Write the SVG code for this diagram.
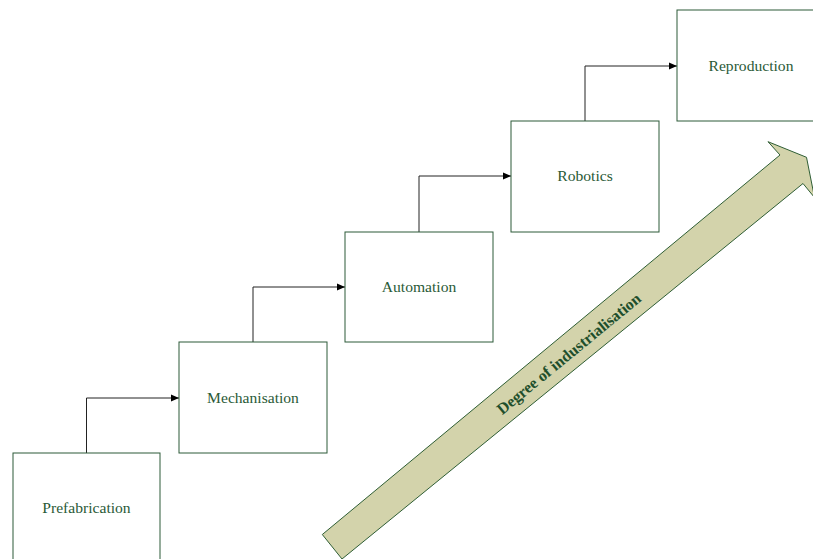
<svg xmlns="http://www.w3.org/2000/svg" width="813" height="559" viewBox="0 0 813 559">
  <style>
    .box { fill: #ffffff; stroke: #2c5a39; stroke-width: 1; }
    .lbl { font-family: "Liberation Serif", "Times New Roman", serif; font-size: 15.6px; fill: #2a5a37; text-anchor: middle; }
    .conn { fill: none; stroke: #222222; stroke-width: 1; marker-end: url(#ah); }
    .big { fill: #d3d3ab; stroke: #2f5e35; stroke-width: 1; }
    .big-lbl { font-family: "Liberation Serif", "Times New Roman", serif; font-size: 16px; font-weight: bold; fill: #1f4f2c; text-anchor: middle; }
  </style>
  <defs>
    <marker id="ah" viewBox="0 0 8 8" refX="8" refY="4" markerWidth="8" markerHeight="8" markerUnits="userSpaceOnUse" orient="auto">
      <path d="M0,0.5 L8,4 L0,7.5 Z" fill="#000000"/>
    </marker>
  </defs>
  <rect width="813" height="559" fill="#ffffff"/>

  <g id="industrialisation-arrow">
    <path class="big" d="M322.3,534.5 L780,155 L768,141.7 L806.5,157.3 L814.5,197.5 L803,183.5 L342,559 Z"/>
    <text class="big-lbl" transform="translate(569,354) rotate(-39.4)" y="5">Degree of industrialisation</text>
  </g>

  <g id="connectors">
    <path class="conn" d="M86.5,453 V398 H179"/>
    <path class="conn" d="M253,342 V287 H345"/>
    <path class="conn" d="M419,232 V176 H511"/>
    <path class="conn" d="M585,121 V66 H677"/>
  </g>

  <g id="prefabrication">
    <rect class="box" x="13" y="453" width="147" height="111"/>
    <text class="lbl" x="86.5" y="513">Prefabrication</text>
  </g>
  <g id="mechanisation">
    <rect class="box" x="179" y="342" width="148" height="111"/>
    <text class="lbl" x="253" y="403">Mechanisation</text>
  </g>
  <g id="automation">
    <rect class="box" x="345" y="232" width="148" height="110"/>
    <text class="lbl" x="419" y="292">Automation</text>
  </g>
  <g id="robotics">
    <rect class="box" x="511" y="121" width="148" height="111"/>
    <text class="lbl" x="585" y="181">Robotics</text>
  </g>
  <g id="reproduction">
    <rect class="box" x="677" y="10" width="148" height="111"/>
    <text class="lbl" x="751" y="71">Reproduction</text>
  </g>
</svg>
